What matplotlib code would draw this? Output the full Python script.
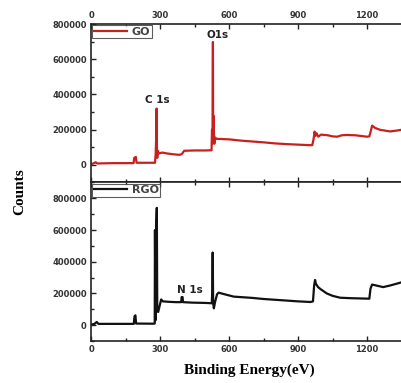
import numpy as np
import matplotlib
matplotlib.use("Agg")
import matplotlib.pyplot as plt
from matplotlib.ticker import MultipleLocator

# XPS survey spectra (binding energy eV, counts)
go_energy = [0, 10, 20, 28, 60, 100, 150, 185, 188, 195, 198, 240, 278, 281, 283,
             285, 286, 288, 290, 295, 310, 330, 360, 385, 395, 405, 450, 500, 524,
             526, 528, 530, 531, 532, 536, 540, 545, 600, 650, 700, 750, 800, 850,
             900, 950, 962, 968, 972, 976, 980, 988, 1000, 1030, 1050, 1070, 1090,
             1113, 1150, 1200, 1210, 1218, 1222, 1235, 1257, 1300, 1330, 1352]
go_counts = [5000, 8000, 15000, 8000, 9000, 10000, 10000, 10000, 40000, 45000, 12000,
             12000, 12000, 60000, 140000, 320000, 130000, 40000, 80000, 65000, 70000,
             65000, 60000, 57000, 62000, 80000, 82000, 82000, 83000, 200000, 120000,
             698000, 150000, 280000, 120000, 155000, 148000, 145000, 138000, 133000,
             128000, 122000, 118000, 115000, 112000, 112000, 150000, 189000, 165000,
             180000, 160000, 172000, 168000, 162000, 160000, 168000, 170000, 168000,
             160000, 162000, 200000, 223000, 210000, 199000, 190000, 195000, 200000]

rgo_energy = [0, 15, 25, 32, 100, 186, 189, 193, 196, 270, 277, 278, 280, 283, 286,
              288, 292, 298, 305, 312, 340, 370, 392, 394, 398, 400, 440, 500, 525,
              527, 529, 531, 534, 540, 548, 555, 580, 620, 670, 700, 750, 800, 850,
              900, 955, 965, 970, 974, 978, 987, 1000, 1025, 1050, 1083, 1130, 1180,
              1210, 1215, 1222, 1240, 1270, 1300, 1330, 1352]
rgo_counts = [3000, 8000, 20000, 8000, 8000, 8000, 55000, 62000, 10000, 9000, 10000,
              600000, 30000, 600000, 740000, 90000, 83000, 120000, 162000, 150000,
              147000, 145000, 145000, 177000, 177000, 145000, 142000, 140000, 138000,
              208000, 458000, 140000, 106000, 150000, 195000, 205000, 195000, 180000,
              175000, 172000, 165000, 160000, 155000, 150000, 146000, 150000, 250000,
              285000, 260000, 240000, 225000, 200000, 185000, 173000, 170000, 168000,
              167000, 230000, 256000, 250000, 240000, 250000, 262000, 271000]

fig = plt.figure(figsize=(4.02, 3.83), dpi=100)
ax1 = fig.add_axes([0.2264, 0.5235, 0.7736, 0.4138])
ax2 = fig.add_axes([0.2264, 0.1097, 0.7736, 0.4138])

for ax in (ax1, ax2):
    ax.set_xlim(0, 1352)
    ax.xaxis.set_major_locator(MultipleLocator(300))
    ax.xaxis.set_minor_locator(MultipleLocator(150))
    ax.yaxis.set_minor_locator(MultipleLocator(100000))
    ax.set_yticks([0, 200000, 400000, 600000, 800000])
    ax.tick_params(which='both', direction='in', width=1, colors='#222222')
    ax.tick_params(which='major', length=3.5, labelsize=6, pad=3)
    ax.tick_params(which='minor', length=2)
    for s in ax.spines.values():
        s.set_linewidth(1.2)
        s.set_color('#222222')
    ax.spines['right'].set_visible(False)

ax1.set_ylim(-100000, 800000)
ax2.set_ylim(-100000, 900000)

ax1.plot(go_energy, go_counts, color='#c8201e', lw=1.6, label='GO')
ax2.plot(rgo_energy, rgo_counts, color='#111111', lw=1.6, label='RGO')

ax1.tick_params(axis='x', which='both', bottom=True, top=True, labelbottom=False, labeltop=True)
ax2.tick_params(axis='x', which='both', top=True, bottom=True)
for ax in (ax1, ax2):
    for lab in ax.get_xticklabels() + ax.get_yticklabels():
        lab.set_fontweight('bold')
        lab.set_color('#333333')

ax1.text(287, 369000, 'C 1s', fontsize=7.5, fontweight='bold', ha='center', va='center', color='#222222')
ax1.text(550, 738000, 'O1s', fontsize=7.5, fontweight='bold', ha='center', va='center', color='#222222')
ax2.text(430, 219000, 'N 1s', fontsize=7.5, fontweight='bold', ha='center', va='center', color='#222222')

for ax in (ax1, ax2):
    leg = ax.legend(loc='upper left', borderaxespad=0.1, fontsize=8, handlelength=3.0,
                    frameon=True, fancybox=False, borderpad=0.15, handletextpad=0.4)
    leg.get_frame().set_edgecolor('#333333')
    leg.get_frame().set_linewidth(0.8)
    for t in leg.get_texts():
        t.set_fontweight('bold')
        t.set_color('#444444')

fig.text(0.05, 0.5, 'Counts', rotation=90, ha='center', va='center',
         fontsize=11, fontweight='bold', family='Liberation Serif')
fig.text(0.62, 0.034, 'Binding Energy(eV)', ha='center', va='center',
         fontsize=11, fontweight='bold', family='Liberation Serif')

fig.savefig('out.png', dpi=100)
